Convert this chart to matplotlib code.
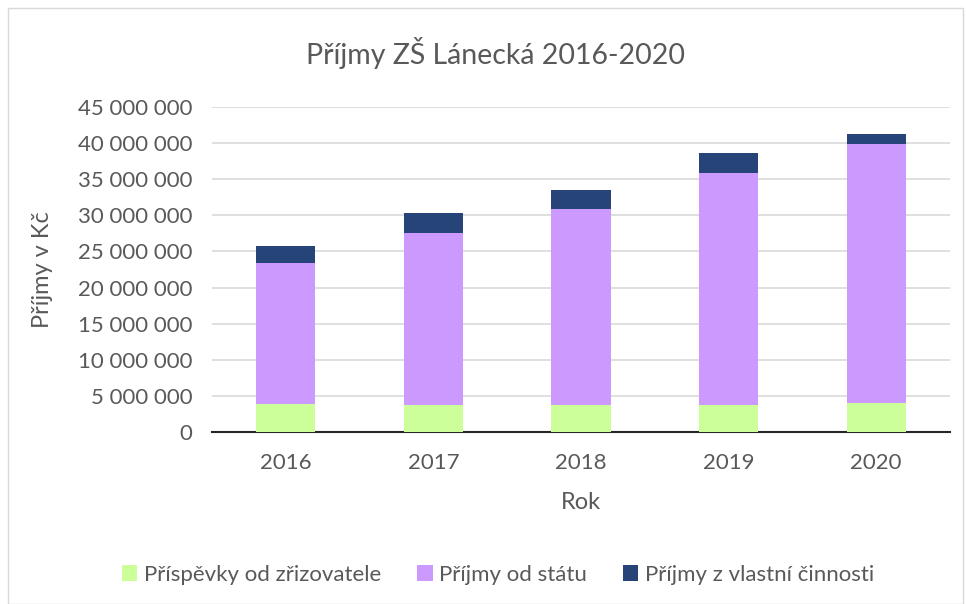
from matplotlib import pyplot as plt
from matplotlib.patches import Rectangle
import numpy as np

years = ["2016", "2017", "2018", "2019", "2020"]
zrizovatel = [3.91e6, 3.69e6, 3.69e6, 3.69e6, 3.96e6]
stat = [19.43e6, 23.93e6, 27.25e6, 32.22e6, 35.96e6]
vlastni = [2.36e6, 2.68e6, 2.54e6, 2.68e6, 1.34e6]

labels = ["Příspěvky od zřizovatele", "Příjmy od státu", "Příjmy z vlastní činnosti"]
colors = ["#ccff99", "#cc99ff", "#264478"]
txt = "#595959"

plt.rcParams['font.family'] = ['Lato', 'DejaVu Sans']

fig = plt.figure(figsize=(9.66, 6.04), dpi=100)
ax = fig.add_axes([212/966, 1-432/604, 738/966, 325/604])

x = np.arange(len(years))
b1 = ax.bar(x, zrizovatel, 0.4, color=colors[0], label=labels[0], zorder=3)
b2 = ax.bar(x, stat, 0.4, bottom=zrizovatel, color=colors[1], label=labels[1], zorder=3)
bot = np.array(zrizovatel) + np.array(stat)
b3 = ax.bar(x, vlastni, 0.4, bottom=bot, color=colors[2], label=labels[2], zorder=3)

ax.set_xlim(-0.5, len(years) - 0.5)
ax.set_ylim(0, 45e6)
yt = np.arange(0, 45e6 + 1, 5e6)
ax.set_yticks(yt)
ax.set_yticklabels(["{:,}".format(int(v)).replace(",", " ") for v in yt])
ax.set_xticks(x)
ax.set_xticklabels(years)
ax.tick_params(axis='both', length=0, labelsize=16, colors=txt, pad=14)
ax.tick_params(axis='x', pad=15)
ax.yaxis.grid(True, color="#d9d9d9", linewidth=1.2, zorder=0)
for s in ["top", "right", "left"]:
    ax.spines[s].set_visible(False)
ax.spines["bottom"].set_color("#262626")
ax.spines["bottom"].set_linewidth(1.5)

ax.set_ylabel("Příjmy v Kč", fontsize=17, color=txt, labelpad=18)
ax.set_xlabel("Rok", fontsize=17, color=txt, labelpad=14)
fig.text(495/966, 1 - 53/604, "Příjmy ZŠ Lánecká 2016-2020",
         ha="center", va="center", fontsize=20.5, color=txt)

fig.legend(handles=[b1, b2, b3], loc="center", bbox_to_anchor=(498/966, 1 - 575/604),
           ncol=3, frameon=False, fontsize=16, labelcolor=txt,
           handlelength=0.7, handleheight=0.7, columnspacing=1.6, handletextpad=0.3)

fig.patches.append(Rectangle((8/966, 0), 955/966, 1 - 8/604, transform=fig.transFigure,
                             fill=False, edgecolor="#d9d9d9", linewidth=1))

fig.savefig("out.png", dpi=100)
